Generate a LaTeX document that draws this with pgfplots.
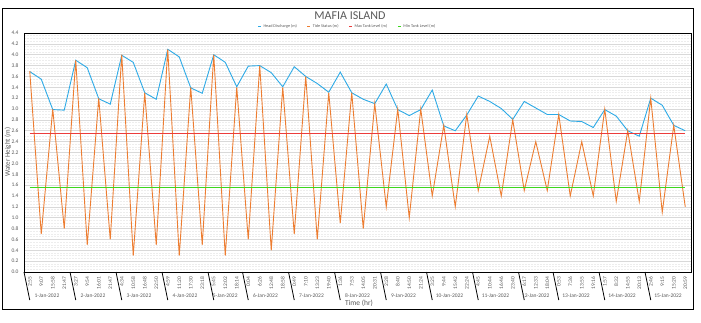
\documentclass[border=0pt]{standalone}
\usepackage{pgfplots}
\usepackage{pgfplotstable}
\pgfplotsset{compat=1.18}
\usepackage{fontspec}
\setmainfont{Carlito}
\definecolor{hd}{RGB}{45,170,230}
\definecolor{tide}{RGB}{237,125,49}
\definecolor{tankmax}{RGB}{235,60,60}
\definecolor{tankmin}{RGB}{60,215,30}
\definecolor{txt}{RGB}{89,89,89}
\pgfplotstableread{
i tide head
0 3.7 3.69
1 0.7 3.55
2 3.0 2.99
3 0.8 2.98
4 3.9 3.90
5 0.5 3.76
6 3.2 3.19
7 0.6 3.09
8 4.0 3.99
9 0.3 3.86
10 3.3 3.30
11 0.5 3.18
12 4.1 4.10
13 0.3 3.96
14 3.4 3.39
15 0.5 3.29
16 4.0 4.00
17 0.3 3.86
18 3.4 3.41
19 0.6 3.79
20 3.8 3.80
21 0.4 3.67
22 3.4 3.41
23 0.7 3.78
24 3.6 3.60
25 0.6 3.47
26 3.3 3.31
27 0.9 3.68
28 3.3 3.30
29 0.8 3.18
30 3.1 3.10
31 1.2 3.46
32 3.0 2.99
33 1.0 2.88
34 3.0 2.99
35 1.4 3.35
36 2.7 2.69
37 1.2 2.60
38 2.9 2.89
39 1.5 3.24
40 2.5 3.14
41 1.4 3.01
42 2.8 2.81
43 1.5 3.14
44 2.4 3.02
45 1.5 2.90
46 2.9 2.90
47 1.4 2.78
48 2.4 2.77
49 1.4 2.66
50 3.0 2.99
51 1.3 2.87
52 2.6 2.60
53 1.3 2.50
54 3.2 3.20
55 1.1 3.07
56 2.7 2.70
57 1.2 2.60
}\data
\pgfplotstableread{
i level
0 2.55
57 2.55
}\maxlevel
\pgfplotstableread{
i level
0 1.55
57 1.55
}\minlevel
\begin{document}
\begin{tikzpicture}
\path[use as bounding box] (0,0) rectangle (701pt,-323pt);
\draw[line width=0.9pt] (2pt,-8pt) rectangle (693pt,-309pt);
\node[font=\fontsize{12}{14}\selectfont, text=txt] at (350pt,-16pt) {MAFIA ISLAND};
\node[rotate=90, font=\fontsize{7}{8}\selectfont, text=txt] at (8pt,-152pt) {Water Height (m)};
\node[font=\fontsize{7.5}{9}\selectfont, text=txt] at (359pt,-303pt) {Time (hr)};
\begin{axis}[
  at={(24pt,-272pt)}, anchor=south west,
  scale only axis, width=667pt, height=239pt,
  xmin=-0.5, xmax=57.5, ymin=0, ymax=4.4,
  axis line style={line width=0.8pt, black},
  ytick={0,0.2,0.4,0.6,0.8,1.0,1.2,1.4,1.6,1.8,2.0,2.2,2.4,2.6,2.8,3.0,3.2,3.4,3.6,3.8,4.0,4.2,4.4},
  minor ytick={0.05,0.1,0.15,0.25,0.3,0.35,0.45,0.5,0.55,0.65,0.7,0.75,0.85,0.9,0.95,1.05,1.1,1.15,1.25,1.3,1.35,1.45,1.5,1.65,1.7,1.75,1.85,1.9,1.95,2.05,2.1,2.15,2.25,2.3,2.35,2.45,2.5,2.65,2.7,2.75,2.85,2.9,2.95,3.05,3.1,3.15,3.25,3.3,3.35,3.45,3.5,3.55,3.65,3.7,3.75,3.85,3.9,3.95,4.05,4.1,4.15,4.25,4.3,4.35},
  yticklabel style={font=\fontsize{5.5}{6}\selectfont, text=txt, xshift=-2pt,
    /pgf/number format/.cd, fixed, fixed zerofill, precision=1, assume math mode=true},
  xtick={0,...,57},
  xticklabels={2:55,9:07,15:58,21:47,3:27,9:54,16:01,21:47,4:34,10:58,16:48,22:50,4:59,11:20,17:30,23:18,5:45,12:02,18:14,0:04,6:26,12:48,18:58,0:49,7:10,13:23,19:40,1:36,7:53,14:05,20:31,2:28,8:40,14:50,21:24,3:25,9:44,15:42,22:24,4:45,10:44,16:46,23:40,6:17,12:33,18:04,0:53,7:36,13:55,19:16,1:57,8:32,14:55,20:13,2:46,9:15,15:20,20:59},
  xticklabel style={rotate=90, anchor=east, font=\fontsize{5.5}{6}\selectfont, text=txt, xshift=-1pt},
  major tick length=0, minor tick length=0,
  ymajorgrids, major grid style={gray!30, line width=0.6pt},
  yminorgrids, minor grid style={gray!14, line width=0.6pt, dash pattern=on 2.2pt off 0.8pt},
  clip=false,
  legend style={at={(0.485,1)}, anchor=south, yshift=2pt, draw=none, fill=none,
    font=\fontsize{4.2}{5}\selectfont, text=txt, legend columns=4, inner sep=0pt,
    /tikz/every even column/.append style={column sep=8pt}},
  legend image code/.code={\draw[#1, line width=1pt] (0pt,0pt) -- (3pt,0pt);},
]
\addplot[hd, line width=0.9pt] table[x=i, y=head] {\data};
\addlegendentry{Head Discharge (m)}
\addplot[tide, line width=0.9pt] table[x=i, y=tide] {\data};
\addlegendentry{Tide Status (m)}
\addplot[tankmax, line width=1.2pt] table[x=i, y=level] {\maxlevel};
\addlegendentry{Max Tank Level (m)}
\addplot[tankmin, line width=1.2pt] table[x=i, y=level] {\minlevel};
\addlegendentry{Min Tank Level (m)}
\pgfplotsinvokeforeach{-0.5,3.5,7.5,11.5,15.5,18.5,22.5,26.5,30.5,34.5,38.5,42.5,45.5,49.5,53.5}{
  \draw[line width=0.8pt] (axis cs:#1,0) -- ++(0,-28pt);
}
\node[font=\fontsize{5.5}{6}\selectfont, text=txt] at ([yshift=-24pt]axis cs:1.5,0) {1-Jan-2022};
\node[font=\fontsize{5.5}{6}\selectfont, text=txt] at ([yshift=-24pt]axis cs:5.5,0) {2-Jan-2022};
\node[font=\fontsize{5.5}{6}\selectfont, text=txt] at ([yshift=-24pt]axis cs:9.5,0) {3-Jan-2022};
\node[font=\fontsize{5.5}{6}\selectfont, text=txt] at ([yshift=-24pt]axis cs:13.5,0) {4-Jan-2022};
\node[font=\fontsize{5.5}{6}\selectfont, text=txt] at ([yshift=-24pt]axis cs:17,0) {5-Jan-2022};
\node[font=\fontsize{5.5}{6}\selectfont, text=txt] at ([yshift=-24pt]axis cs:20.5,0) {6-Jan-2022};
\node[font=\fontsize{5.5}{6}\selectfont, text=txt] at ([yshift=-24pt]axis cs:24.5,0) {7-Jan-2022};
\node[font=\fontsize{5.5}{6}\selectfont, text=txt] at ([yshift=-24pt]axis cs:28.5,0) {8-Jan-2022};
\node[font=\fontsize{5.5}{6}\selectfont, text=txt] at ([yshift=-24pt]axis cs:32.5,0) {9-Jan-2022};
\node[font=\fontsize{5.5}{6}\selectfont, text=txt] at ([yshift=-24pt]axis cs:36.5,0) {10-Jan-2022};
\node[font=\fontsize{5.5}{6}\selectfont, text=txt] at ([yshift=-24pt]axis cs:40.5,0) {11-Jan-2022};
\node[font=\fontsize{5.5}{6}\selectfont, text=txt] at ([yshift=-24pt]axis cs:44,0) {12-Jan-2022};
\node[font=\fontsize{5.5}{6}\selectfont, text=txt] at ([yshift=-24pt]axis cs:47.5,0) {13-Jan-2022};
\node[font=\fontsize{5.5}{6}\selectfont, text=txt] at ([yshift=-24pt]axis cs:51.5,0) {14-Jan-2022};
\node[font=\fontsize{5.5}{6}\selectfont, text=txt] at ([yshift=-24pt]axis cs:55.5,0) {15-Jan-2022};
\end{axis}
\end{tikzpicture}
\end{document}
